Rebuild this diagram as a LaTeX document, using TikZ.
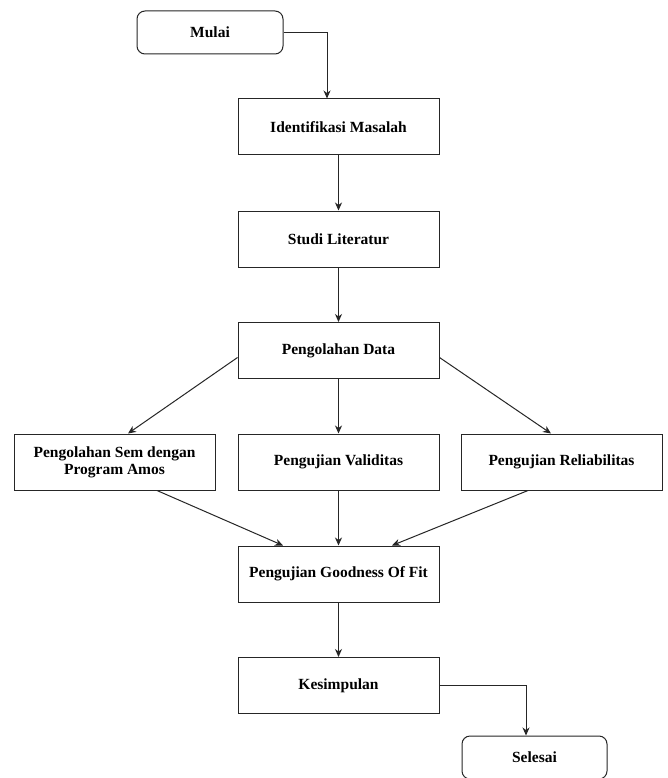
\documentclass[tikz,border=0pt]{standalone}
\usepackage{fontspec}
\setmainfont{Liberation Serif}
\usetikzlibrary{arrows.meta,calc}
\begin{document}
\begin{tikzpicture}[x=1pt,y=-1pt,
  box/.style={draw=black!85,line width=1pt,fill=white,minimum width=201pt,minimum height=56pt,
    inner sep=2pt,align=center,font=\fontsize{15.5}{17}\selectfont\bfseries},
  term/.style={box,rounded corners=8pt,minimum width=146pt,minimum height=43pt},
  arr/.style={draw=black!85,line width=1pt,-{Stealth[length=8pt,width=7pt,inset=2.5pt]}}]
\useasboundingbox[fill=white] (0,0) rectangle (667,778);
\node[term] (mulai) at (210,32.5) {Mulai};
\node[box] (ident) at (338.5,127) {Identifikasi Masalah};
\node[box] (studi) at (338.5,239) {Studi Literatur};
\node[box] (pd) at (338.5,350.5) {Pengolahan Data};
\node[box] (sem) at (114.5,462) {Pengolahan Sem dengan\\Program Amos};
\node[box] (val) at (338.5,462) {Pengujian Validitas};
\node[box] (rel) at (561.5,462) {Pengujian Reliabilitas};
\node[box] (gof) at (338.5,574) {Pengujian Goodness Of Fit};
\node[box] (kes) at (338.5,685.5) {Kesimpulan};
\node[term,minimum width=145pt] (sel) at (534.5,757.5) {Selesai};
\draw[arr] (mulai.east) -| ([xshift=-11.5pt]ident.north);
\draw[arr] (ident) -- (studi);
\draw[arr] (studi) -- (pd);
\draw[arr] (pd) -- (val);
\draw[arr] (val) -- (gof);
\draw[arr] (gof) -- (kes);
\draw[arr] ([yshift=-7pt]pd.west) -- ([xshift=13.5pt]sem.north);
\draw[arr] ([yshift=-7pt]pd.east) -- ([xshift=-10.5pt]rel.north);
\draw[arr] ([xshift=42.5pt]sem.south) -- ([xshift=-55.5pt]gof.north);
\draw[arr] ([xshift=-33.5pt]rel.south) -- ([xshift=53.5pt]gof.north);
\draw[arr] (kes.east) -| ([xshift=-8.5pt]sel.north);
\end{tikzpicture}
\end{document}
